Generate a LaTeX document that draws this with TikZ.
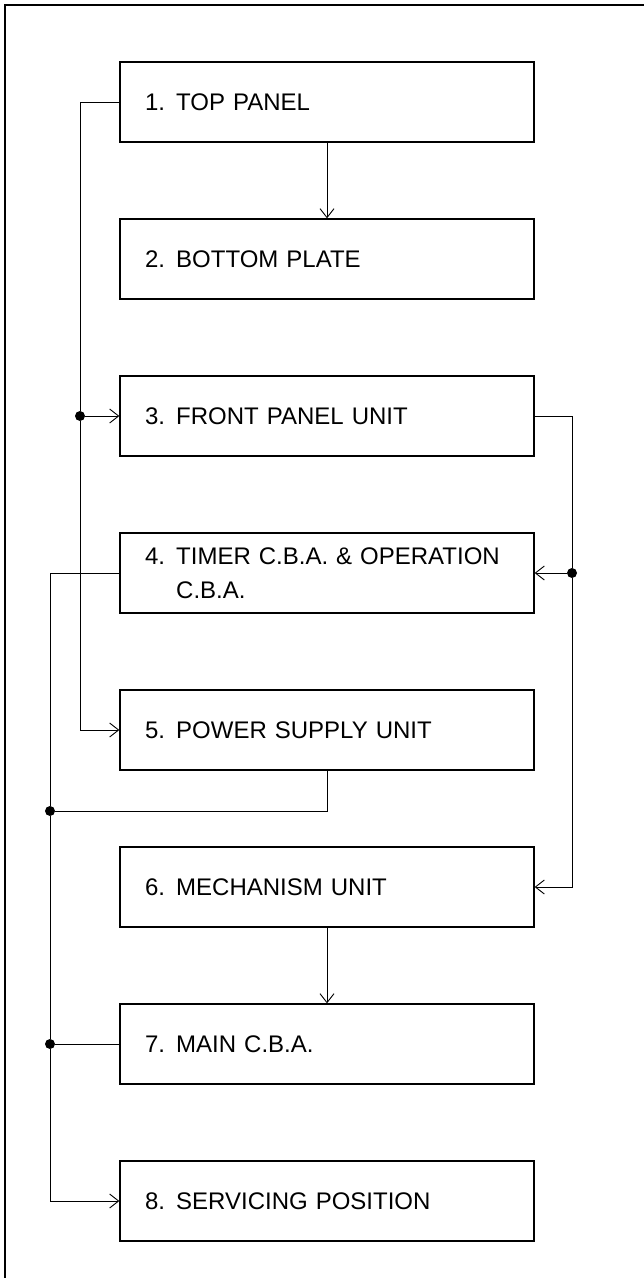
\documentclass[tikz,border=0pt]{standalone}
\usepackage{fontspec}
\setmainfont{Liberation Sans}
\usetikzlibrary{arrows.meta}
\tikzset{
  blocco/.style={draw,line width=1.3pt,minimum height=80pt,text width=364pt,
    inner xsep=25pt,inner ysep=0pt,align=left,font=\fontsize{24}{34}\selectfont},
  freccia/.style={-{Straight Barb[length=9pt,width=14pt]},line width=0.9pt},
  linea/.style={line width=0.9pt},
  giunto/.style={circle,fill,inner sep=0pt,minimum size=10pt}
}
\newcommand{\voce}[1]{\makebox[1.3em][l]{#1}}
\begin{document}
\begin{tikzpicture}[x=1pt,y=-1pt]
        \useasboundingbox (0,0) rectangle (644,1278);
        %cornice
        \draw[line width=2pt](5,1278)--(5,5)--(644,5);
        %blocchi
        \node[blocco] (b1) at (327,102) {\voce{1.}TOP PANEL};
        \node[blocco] (b2) at (327,259) {\voce{2.}BOTTOM PLATE};
        \node[blocco] (b3) at (327,416) {\voce{3.}FRONT PANEL UNIT};
        \node[blocco] (b4) at (327,573) {\voce{4.}TIMER C.B.A. \& OPERATION\\\voce{}C.B.A.};
        \node[blocco] (b5) at (327,730) {\voce{5.}POWER SUPPLY UNIT};
        \node[blocco] (b6) at (327,887) {\voce{6.}MECHANISM UNIT};
        \node[blocco] (b7) at (327,1044) {\voce{7.}MAIN C.B.A.};
        \node[blocco] (b8) at (327,1201) {\voce{8.}SERVICING POSITION};
        %frecce verticali
        \draw[freccia] (b1)--(b2);
        \draw[freccia] (b6)--(b7);
        %linea da 1 verso 3 e 5
        \node[giunto] (j3) at (80,416) {};
        \draw[linea] (b1.west)-|(j3);
        \draw[freccia] (j3)--(b3.west);
        \draw[freccia] (j3)|-(b5.west);
        %linea da 3 verso 4 e 6
        \node[giunto] (j4) at (572,573) {};
        \draw[linea] (b3.east)-|(j4);
        \draw[freccia] (j4)--(b4.east);
        \draw[freccia] (j4)|-(b6.east);
        %linea da 4, 5 e 7 verso 8
        \node[giunto] (j5) at (50,811) {};
        \node[giunto] (j7) at (50,1044) {};
        \draw[linea] (b4.west)-|(j5);
        \draw[linea] (b5.south)|-(j5);
        \draw[linea] (j5)--(j7);
        \draw[linea] (b7.west)--(j7);
        \draw[freccia] (j7)|-(b8.west);
\end{tikzpicture}
\end{document}
